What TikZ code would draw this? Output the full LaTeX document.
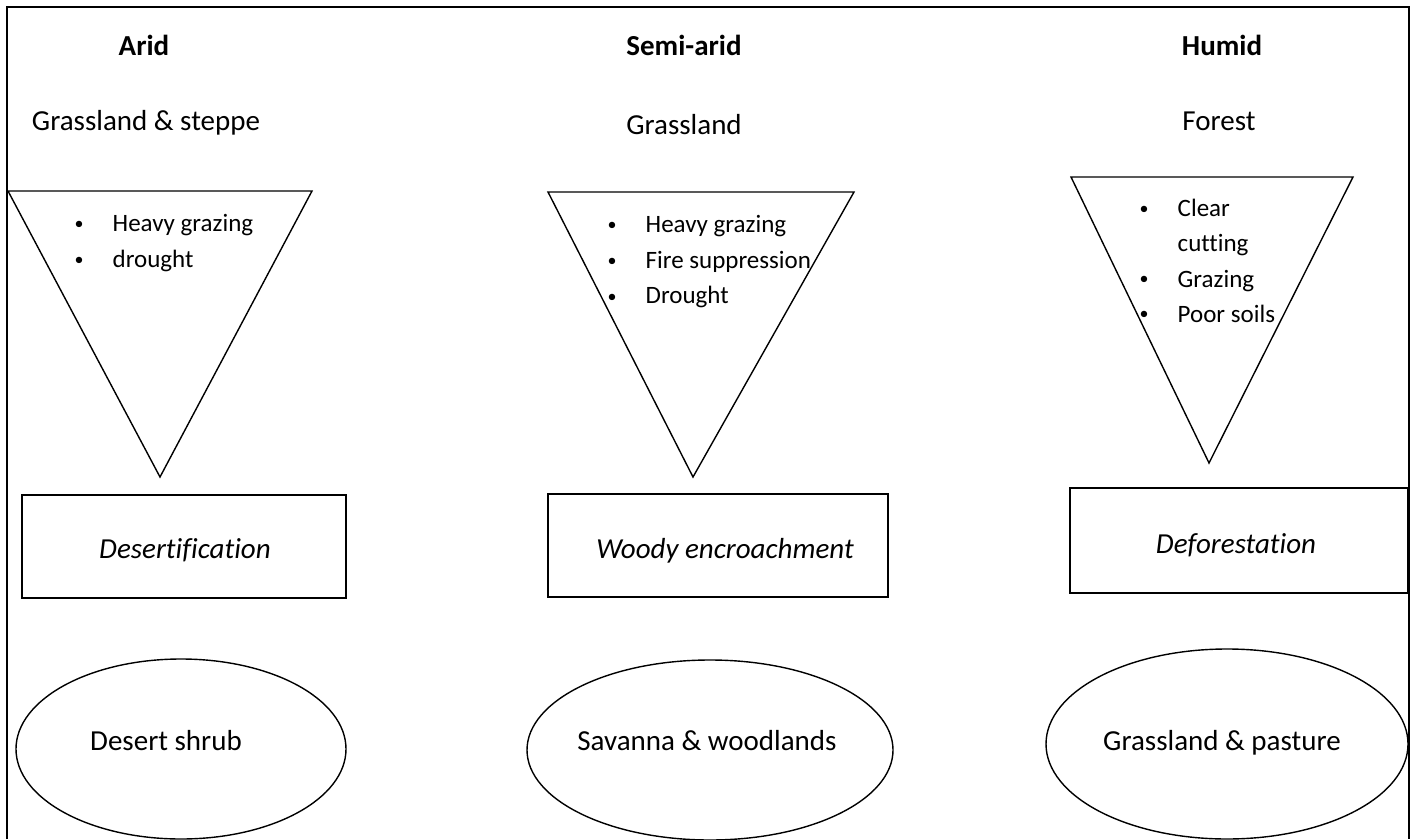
\documentclass[tikz,border=0pt]{standalone}
\usepackage{fontspec}
\setmainfont[Ligatures=NoCommon]{Carlito}
\tikzset{
  txt/.style={anchor=base, inner sep=0pt, font=\fontsize{14.5}{17}\selectfont},
  head/.style={txt, font=\fontsize{14.5}{17}\selectfont\bfseries},
  ital/.style={txt, font=\fontsize{14.5}{17}\selectfont\itshape},
  bul/.style={anchor=base, inner sep=0pt, yshift=1pt, font=\fontsize{9}{10}\selectfont},
  cause/.style={anchor=base west, inner sep=0pt, font=\fontsize{12.5}{15}\selectfont},
}
\begin{document}
\begin{tikzpicture}[x=0.5pt, y=-0.5pt, line width=0.7pt]
\useasboundingbox (0,0) rectangle (1416,839);

\def\xa{144}
\def\xb{684}
\def\xc{1222}

\def\ya{56}
\def\yb{131}

% frame
\draw[line width=1.4pt] (7,839) -- (7,7) -- (1409,7) -- (1409,839);

% headings
\node[head] (a) at (\xa, \ya) {Arid};
\node[head] (b) at (\xb, \ya) {Semi-arid};
\node[head] (c) at (\xc, \ya) {Humid};
\node[txt] (d) at (146, \yb) {Grassland \& steppe};
\node[txt] (e) at (\xb, 135) {Grassland};
\node[txt] (f) at (1219, \yb) {Forest};

% triangles
\draw (8,191) -- (312,191) -- (160,477) -- cycle;
\draw (548,192) -- (854,192) -- (693,477) -- cycle;
\draw (1071,177) -- (1353,177) -- (1209,463) -- cycle;

\node[bul] (g1) at (79, 232) {\textbullet};
\node[cause] (h1) at (112, 232) {Heavy grazing};
\node[bul] (g2) at (79, 268) {\textbullet};
\node[cause] (h2) at (112, 268) {drought};

\node[bul] (i1) at (612, 233) {\textbullet};
\node[cause] (j1) at (645, 233) {Heavy grazing};
\node[bul] (i2) at (612, 269) {\textbullet};
\node[cause] (j2) at (645, 269) {Fire suppression};
\node[bul] (i3) at (612, 304) {\textbullet};
\node[cause] (j3) at (645, 304) {Drought};

\node[bul] (k1) at (1144, 217) {\textbullet};
\node[cause] (l1) at (1177, 217) {Clear};
\node[cause] (l2) at (1177, 252) {cutting};
\node[bul] (k3) at (1144, 287) {\textbullet};
\node[cause] (l3) at (1177, 287) {Grazing};
\node[bul] (k4) at (1144, 322) {\textbullet};
\node[cause] (l4) at (1177, 322) {Poor soils};

% boxes
\draw (22,495) rectangle (346,598);
\draw (548,494) rectangle (888,597);
\draw (1070,488) rectangle (1408,593);
\node[ital] (m) at (185, 558) {Desertification};
\node[ital] (n) at (725, 558) {Woody encroachment};
\node[ital] (o) at (1236, 553) {Deforestation};

% ellipses
\draw (181,749) ellipse [x radius=165, y radius=90];
\draw (710,750) ellipse [x radius=183, y radius=90];
\draw (1227,744) ellipse [x radius=181, y radius=95];
\node[txt] (p) at (166, 750) {Desert shrub};
\node[txt] (q) at (707, 750) {Savanna \& woodlands};
\node[txt] (r) at (\xc, 750) {Grassland \& pasture};
\end{tikzpicture}
\end{document}
